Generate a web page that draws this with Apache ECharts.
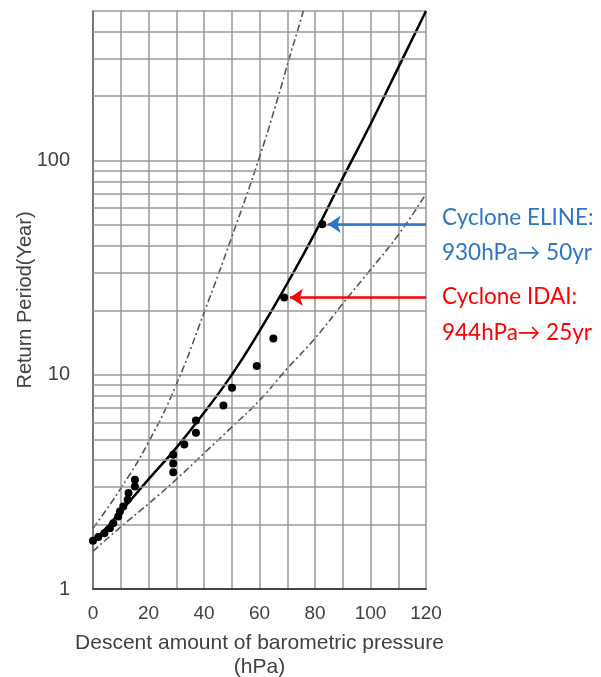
<!DOCTYPE html>
<html>
<head>
    <meta charset="utf-8">
    <script src="https://cdn.jsdelivr.net/npm/echarts@6.0.0/dist/echarts.min.js"></script>
    <style>
        html, body { margin: 0; padding: 0; background: #fff; }
        #chart { width: 601px; height: 677px; }
    </style>
</head>
<body>
<div id="chart"></div>
<script>
    // tick labels
    const xTickLabels = [0, 20, 40, 60, 80, 100, 120]
    const yTickLabels = [1, 10, 100]
    const yMinorGrid = [2, 3, 4, 5, 6, 7, 8, 9, 20, 30, 40, 50, 60, 70, 80, 90, 200, 300, 400]

    // observed return periods (hPa descent, years)
    const obsX = [0, 1.9, 4.1, 6.1, 7.3, 9.1, 9.7, 10.9, 12.5, 12.8, 15.1, 15.1,
        28.9, 28.9, 28.9, 32.9, 37.1, 37.1, 47, 50.1, 59, 65, 68.9, 82.6]
    const obsY = [1.68, 1.75, 1.82, 1.92, 2.03, 2.18, 2.3, 2.43, 2.61, 2.81, 3.01, 3.24,
        3.51, 3.85, 4.24, 4.73, 5.36, 6.12, 7.2, 8.71, 11.0, 14.8, 23.0, 50.5]

    // fitted curve and confidence bounds
    const fitX = [0, 10, 20, 30, 40, 50, 60, 70, 80, 90, 100, 110, 120]
    const fitY = [1.65, 2.3, 3.25, 4.56, 6.65, 10.0, 16.0, 26.7, 46, 83, 148, 272, 500]
    const upperX = [0, 10, 20, 30, 40, 50, 60, 66.8, 70.7, 73.6, 75.8]
    const upperY = [1.92, 2.95, 4.85, 9.0, 19.5, 44, 104, 200, 300, 400, 500]
    const lowerX = [0, 10, 20, 30, 40, 50, 60, 70, 80, 90, 100, 110, 120]
    const lowerY = [1.5, 1.95, 2.5, 3.25, 4.3, 5.7, 7.6, 10.7, 14.8, 21.5, 31, 45, 70]

    // annotated cyclones
    const eline = { x: 82.6, y: 50.5, tipX: 84.6 }
    const idai = { x: 68.9, y: 23.0, tipX: 71 }

    const zip = (xs, ys) => xs.map((x, i) => [x, ys[i]])

    const gridColor = '#999'
    const dashDot = [7, 3, 2, 3]
    const labelFont = 'Liberation Sans'

    const chart = echarts.init(document.getElementById('chart'))
    const option = {
        animation: false,
        grid: { left: 93, right: 175, top: 11, bottom: 88, outerBoundsMode: 'none', containLabel: false },
        xAxis: {
            type: 'value',
            min: 0,
            max: 120,
            interval: 10,
            axisLine: { lineStyle: { color: '#444', width: 2 } },
            axisTick: { show: false },
            axisLabel: {
                color: '#404040',
                fontFamily: labelFont,
                fontSize: 19,
                margin: 15,
                formatter: v => xTickLabels.includes(v) ? String(v) : ''
            },
            splitLine: { show: true, lineStyle: { color: gridColor, width: 1.5 } },
            name: 'Descent amount of barometric pressure\n(hPa)',
            nameLocation: 'middle',
            nameGap: 42,
            nameMoveOverlap: false,
            nameTextStyle: { color: '#404040', fontFamily: labelFont, fontSize: 21, lineHeight: 24, verticalAlign: 'top' }
        },
        yAxis: {
            type: 'log',
            logBase: 10,
            min: 1,
            max: 500,
            axisLine: { show: true, lineStyle: { color: '#666', width: 1.5 } },
            axisTick: { show: false },
            axisLabel: {
                color: '#404040',
                fontFamily: labelFont,
                fontSize: 20,
                margin: 23,
                formatter: v => yTickLabels.some(t => Math.abs(t - v) < 1e-6) ? String(Math.round(v)) : ''
            },
            splitLine: { show: true, lineStyle: { color: gridColor, width: 1.5 } },
            name: 'Return Period(Year)',
            nameLocation: 'middle',
            nameGap: 58,
            nameMoveOverlap: false,
            nameTextStyle: { color: '#404040', fontFamily: labelFont, fontSize: 20 }
        },
        series: [
            {
                // minor log grid lines
                type: 'line',
                data: [[0, 1]],
                symbol: 'none',
                lineStyle: { opacity: 0 },
                silent: true,
                z: 1,
                markLine: {
                    silent: true,
                    symbol: ['none', 'none'],
                    label: { show: false },
                    lineStyle: { color: gridColor, width: 1.5, type: 'solid' },
                    data: yMinorGrid.map(v => ({ yAxis: v }))
                }
            },
            {
                type: 'line',
                data: zip(upperX, upperY),
                smooth: 0.5,
                symbol: 'none',
                lineStyle: { color: '#555', width: 1.6, type: dashDot },
                z: 3
            },
            {
                type: 'line',
                data: zip(lowerX, lowerY),
                smooth: 0.5,
                symbol: 'none',
                lineStyle: { color: '#555', width: 1.6, type: dashDot },
                z: 3
            },
            {
                type: 'line',
                data: zip(fitX, fitY),
                smooth: 0.5,
                symbol: 'none',
                lineStyle: { color: '#000', width: 2.5 },
                z: 4
            },
            {
                type: 'scatter',
                data: zip(obsX, obsY),
                symbolSize: 8,
                itemStyle: { color: '#000', opacity: 1 },
                z: 5
            },
            {
                type: 'line',
                data: [],
                z: 6,
                markLine: {
                    silent: true,
                    symbol: ['none', 'arrow'],
                    symbolSize: 13,
                    label: { show: false },
                    data: [
                        [{ coord: [120, eline.y], lineStyle: { color: '#2e75c6', width: 2.5, type: 'solid' } },
                         { coord: [eline.tipX, eline.y] }],
                        [{ coord: [120, idai.y], lineStyle: { color: '#ff0000', width: 2.5, type: 'solid' } },
                         { coord: [idai.tipX, idai.y] }]
                    ]
                }
            }
        ],
        graphic: [
            { type: 'text', left: 442, top: 206, style: { text: 'Cyclone ELINE:', fill: '#2e75c6', font: '22.5px Lato' } },
            { type: 'text', left: 442, top: 241, style: { text: '930hPa\u2192 50yr', fill: '#2e75c6', font: '22.5px Lato' } },
            { type: 'text', left: 442, top: 285, style: { text: 'Cyclone IDAI:', fill: '#ff0000', font: '22.5px Lato' } },
            { type: 'text', left: 442, top: 321, style: { text: '944hPa\u2192 25yr', fill: '#ff0000', font: '22.5px Lato' } }
        ]
    }
    chart.setOption(option)
</script>
</body>
</html>
